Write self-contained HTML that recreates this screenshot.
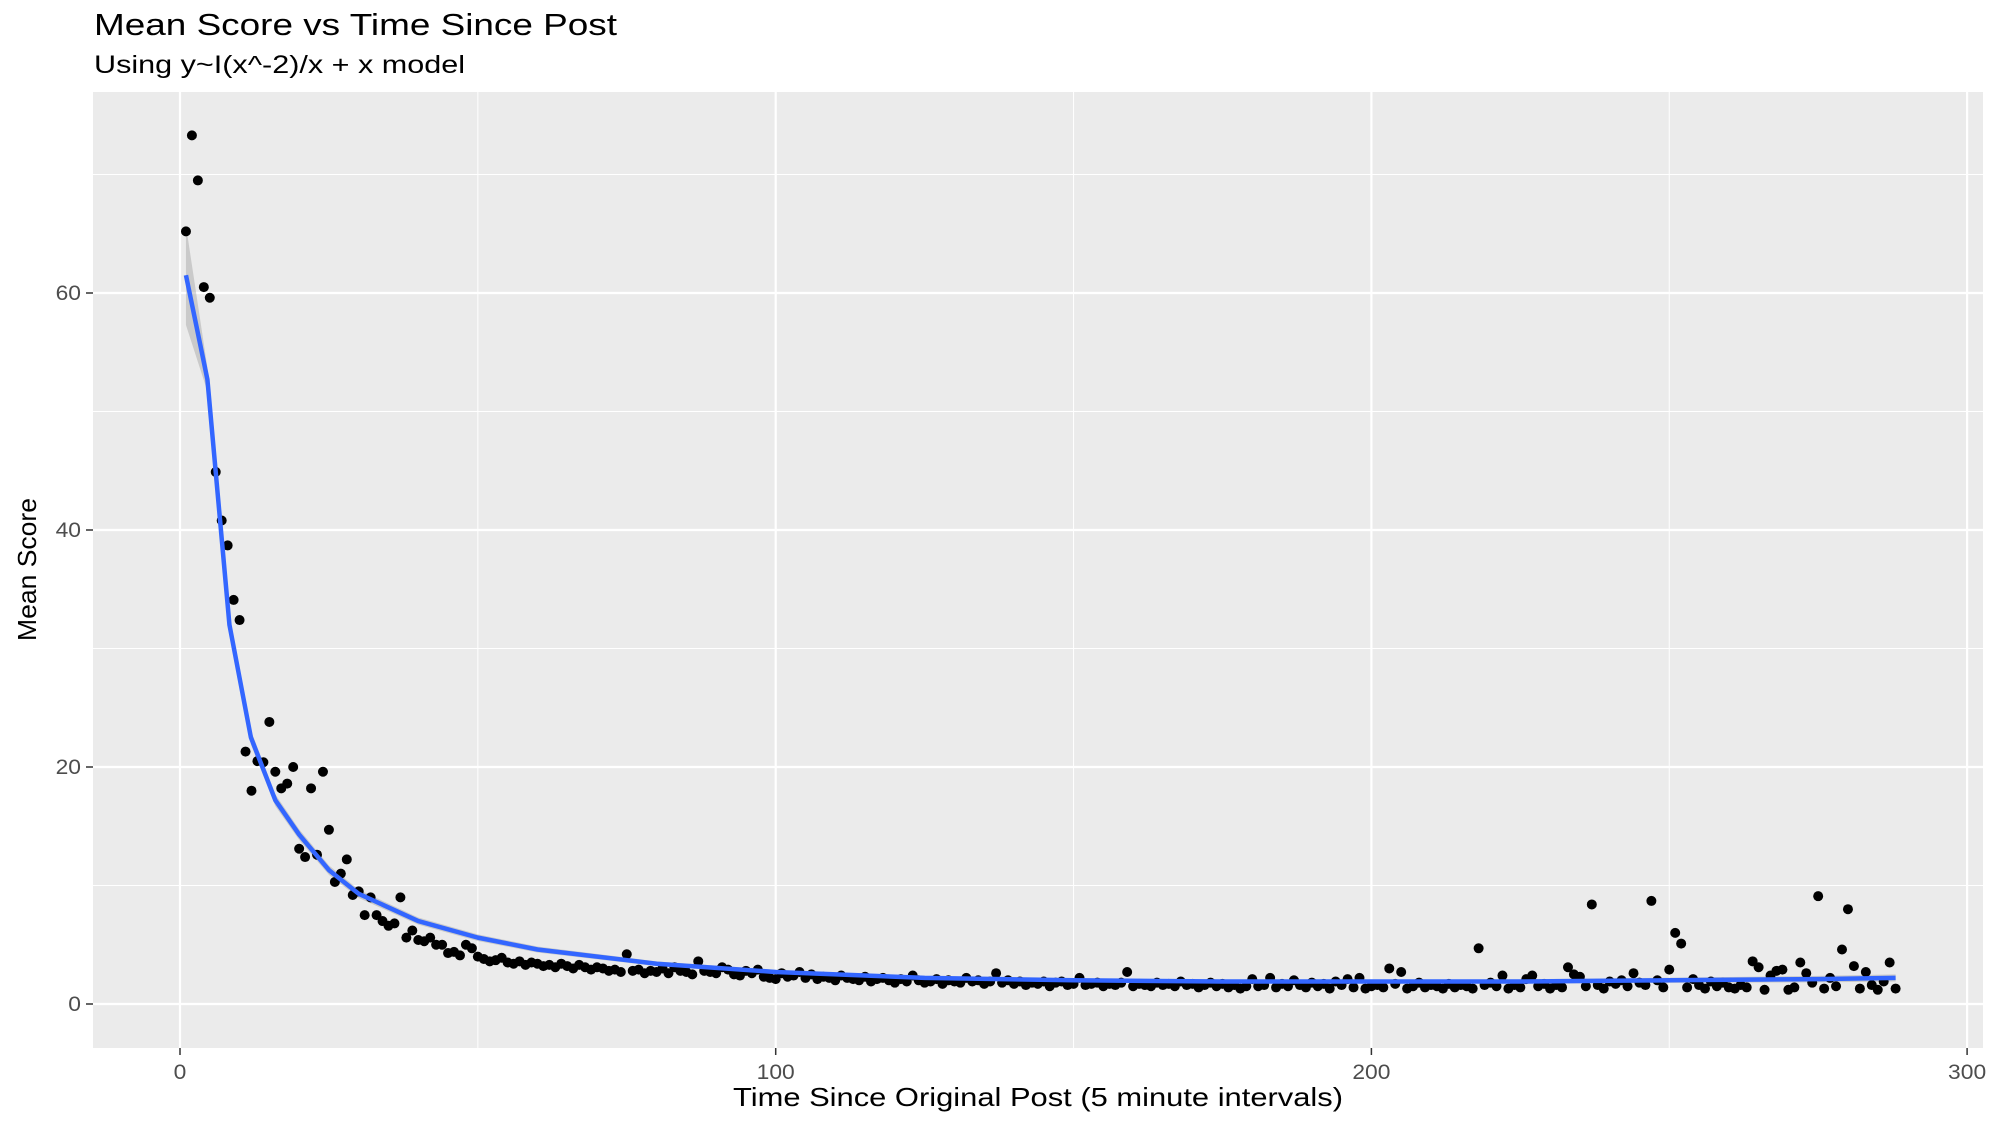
<!DOCTYPE html>
<html><head><meta charset="utf-8"><style>
html,body{margin:0;padding:0;background:#fff;}
svg{display:block;font-family:"Liberation Sans",sans-serif;}
</style></head><body>
<svg id="chart" width="2000" height="1125" viewBox="0 0 2000 1125">
<text x="94" y="35" font-size="31" fill="#000" textLength="523" lengthAdjust="spacingAndGlyphs">Mean Score vs Time Since Post</text>
<text x="94" y="73" font-size="25" fill="#000" textLength="371" lengthAdjust="spacingAndGlyphs">Using y~I(x^-2)/x + x model</text>
<rect x="93" y="92" width="1890" height="956" fill="#EBEBEB"/>
<g id="grid"></g><g id="band"></g><g id="pts"></g><g id="fit"></g><g id="axes"></g>
<text x="733" y="1106" font-size="26" fill="#000" textLength="610" lengthAdjust="spacingAndGlyphs">Time Since Original Post (5 minute intervals)</text>
<text transform="translate(36,641) rotate(-90)" font-size="26" fill="#000" textLength="143" lengthAdjust="spacingAndGlyphs">Mean Score</text>
</svg>
<script>
const scores = [65.2,73.3,69.5,60.5,59.6,44.9,40.8,38.7,34.1,32.4,
21.3,18.0,20.5,20.4,23.8,19.6,18.2,18.6,20.0,13.1,
12.4,18.2,12.6,19.6,14.7,10.3,11.0,12.2,9.2,9.5,
7.5,9.0,7.5,7.0,6.6,6.8,9.0,5.6,6.2,5.4,
5.3,5.6,5.0,5.0,4.3,4.4,4.1,5.0,4.7,4.0,
3.8,3.6,3.7,3.9,3.5,3.4,3.6,3.3,3.5,3.4,
3.2,3.3,3.1,3.4,3.2,3.0,3.3,3.1,2.9,3.1,
3.0,2.8,2.9,2.7,4.2,2.8,2.9,2.6,2.8,2.7,
3.0,2.6,3.1,2.8,2.7,2.5,3.6,2.8,2.7,2.6,
3.1,2.9,2.5,2.4,2.8,2.6,2.9,2.3,2.2,2.1,
2.6,2.3,2.4,2.7,2.2,2.5,2.1,2.3,2.2,2.0,
2.4,2.2,2.1,2.0,2.3,1.9,2.1,2.2,2.0,1.8,
2.1,1.9,2.4,2.0,1.8,1.9,2.1,1.7,2.0,1.9,
1.8,2.2,1.9,2.0,1.7,1.9,2.6,1.8,2.0,1.7,
1.9,1.6,1.8,1.7,1.9,1.5,1.8,1.9,1.6,1.7,
2.2,1.6,1.7,1.8,1.5,1.7,1.6,1.8,2.7,1.5,
1.7,1.6,1.5,1.8,1.6,1.7,1.5,1.9,1.6,1.7,
1.4,1.6,1.8,1.5,1.7,1.4,1.6,1.3,1.5,2.1,
1.5,1.6,2.2,1.4,1.7,1.5,2.0,1.6,1.4,1.8,
1.5,1.7,1.3,1.9,1.6,2.1,1.4,2.2,1.3,1.5,
1.6,1.4,3.0,1.7,2.7,1.3,1.5,1.8,1.4,1.6,
1.5,1.3,1.7,1.4,1.6,1.5,1.3,4.7,1.6,1.8,
1.5,2.4,1.3,1.6,1.4,2.1,2.4,1.5,1.7,1.3,
1.6,1.4,3.1,2.5,2.3,1.5,8.4,1.6,1.3,1.9,
1.7,2.0,1.5,2.6,1.8,1.6,8.7,2.0,1.4,2.9,
6.0,5.1,1.4,2.1,1.6,1.3,1.9,1.5,1.8,1.4,
1.3,1.6,1.4,3.6,3.1,1.2,2.4,2.8,2.9,1.2,
1.4,3.5,2.6,1.8,9.1,1.3,2.2,1.5,4.6,8.0,
3.2,1.3,2.7,1.6,1.2,1.9,3.5,1.3];
const fitX = [1,4.6,8.3,11.9,16,20,25,30,40,50,60,80,100,125,150,175,200,225,250,275,288];
const fitY = [61.5,52.7,32,22.5,17.2,14.3,11.3,9.3,7,5.6,4.6,3.4,2.7,2.2,2.0,1.9,1.9,1.9,2.0,2.1,2.2];
const fitSE = [4.2,1.0,0.8,0.6,0.5,0.45,0.4,0.35,0.3,0.28,0.25,0.2,0.18,0.15,0.14,0.14,0.15,0.18,0.22,0.27,0.3];
const xTicks = [0,100,200,300];
const yTicks = [0,20,40,60];

const X = v => 180 + v*5.957;
const Y = v => 1004 - v*11.85;
const NS='http://www.w3.org/2000/svg';
function mk(tag, attrs, parent){const e=document.createElementNS(NS,tag);for(const k in attrs)e.setAttribute(k,attrs[k]);parent.appendChild(e);return e;}
const grid=document.getElementById('grid');
[50,150,250].forEach(v=>{const l=mk('line',{x1:X(v),x2:X(v),y1:92,y2:1048,stroke:'#fff','stroke-width':1},grid);

});
[10,30,50,70].forEach(v=>{const l=mk('line',{x1:93,x2:1983,y1:Y(v),y2:Y(v),stroke:'#fff','stroke-width':1},grid);

});
xTicks.forEach(v=>{const l=mk('line',{x1:X(v),x2:X(v),y1:92,y2:1048,stroke:'#fff','stroke-width':2.2},grid);

});
yTicks.forEach(v=>{const l=mk('line',{x1:93,x2:1983,y1:Y(v),y2:Y(v),stroke:'#fff','stroke-width':2.2},grid);

});
const axes=document.getElementById('axes');
xTicks.forEach(v=>{mk('line',{x1:X(v),x2:X(v),y1:1048,y2:1055,stroke:'#333','stroke-width':1.5},axes);
const s=String(v);
const t=mk('text',{x:X(v),y:1079,'font-size':21,'text-anchor':'middle',fill:'#4d4d4d',textLength:s.length*12.7,lengthAdjust:'spacingAndGlyphs'},axes);t.textContent=s;

});
yTicks.forEach(v=>{mk('line',{x1:86,x2:93,y1:Y(v),y2:Y(v),stroke:'#333','stroke-width':1.5},axes);
const s=String(v);
const t=mk('text',{x:81,y:Y(v)+7,'font-size':21,'text-anchor':'end',fill:'#4d4d4d',textLength:s.length*12.7,lengthAdjust:'spacingAndGlyphs'},axes);t.textContent=s;

});
let up=fitX.map((x,i)=>X(x)+','+Y(fitY[i]+fitSE[i]));
let dn=fitX.map((x,i)=>X(x)+','+Y(fitY[i]-fitSE[i])).reverse();
const band=mk('polygon',{points:up.concat(dn).join(' '),fill:'#999',opacity:0.4},document.getElementById('band'));


const pts=document.getElementById('pts');
scores.forEach((s,i)=>{const c=mk('circle',{cx:X(i+1),cy:Y(s),r:5,fill:'#000'},pts);

});
const fit=mk('polyline',{points:fitX.map((x,i)=>X(x)+','+Y(fitY[i])).join(' '),fill:'none',stroke:'#3366FF','stroke-width':4.5,'stroke-linejoin':'round'},document.getElementById('fit'));


</script>
</body></html>
